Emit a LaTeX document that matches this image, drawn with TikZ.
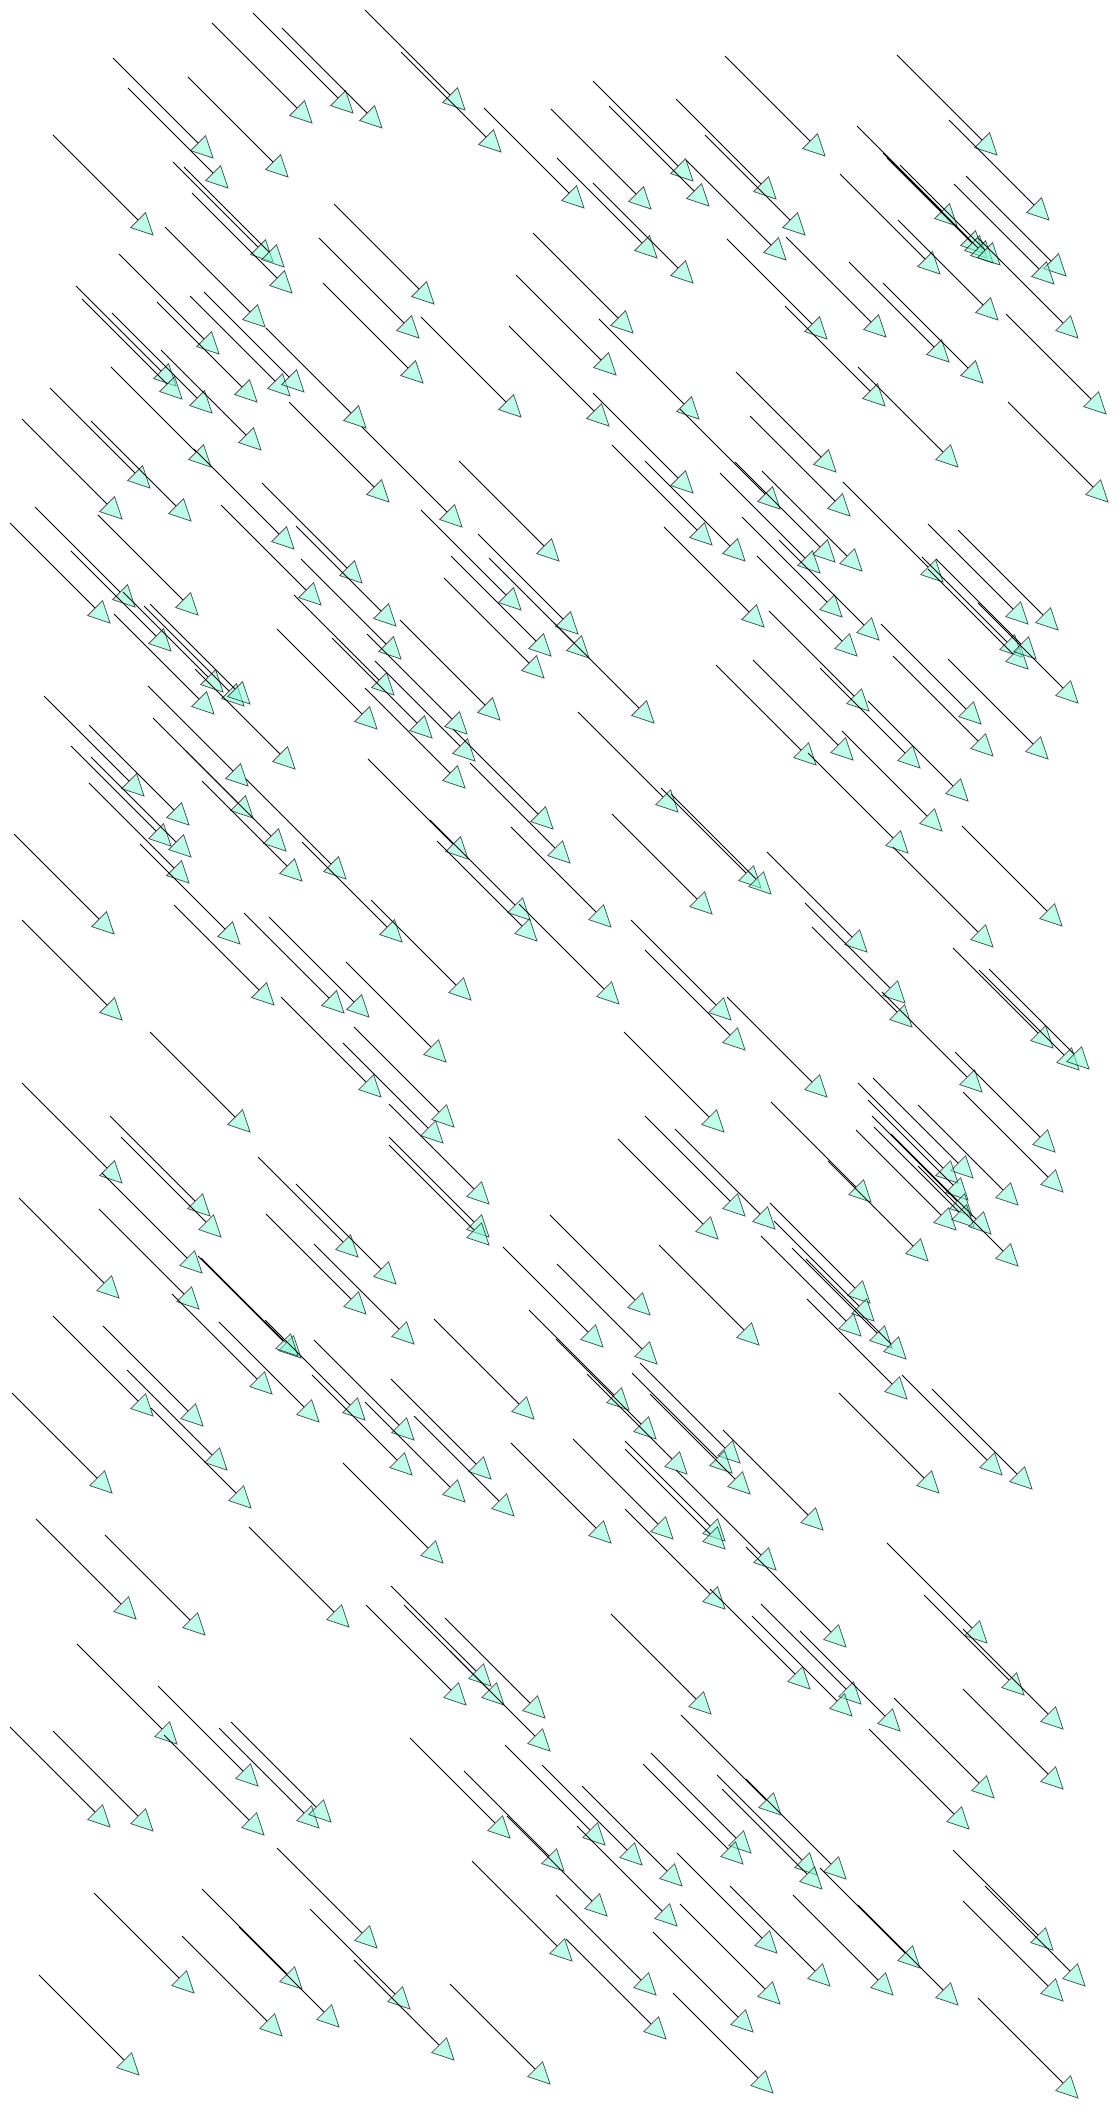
\documentclass[tikz,border=0pt]{standalone}
\usepackage{tikz}
\usetikzlibrary{calc}
\definecolor{aquamarine}{RGB}{127,255,212}

\begin{document}
\begin{tikzpicture}[x=1pt, y=-1pt, shaft/.style={black, line width=0.8pt}, head/.style={fill=aquamarine, fill opacity=0.5, draw=black, draw opacity=0.65, line width=0.8pt, line join=miter}]
			\useasboundingbox (0,0) rectangle (1118,2108);

			%every vector is (100,100), listed by its tip
			\foreach \x/\y in {
				312/123,353/113,382/128,465/110,501/152,213/158,228/188,288/177,153/235,273/262,284/267,292/293,434/304,265/327,419/338,219/354,
				423/383,176/386,182/399,212/413,257/402,290/396,304/392,366/428,521/417,261/450,211/467,150/488,122/519,191/521,389/502,462/527,
				584/208,651/209,693/181,709/206,776/199,825/156,805/235,997/155,1049/220,657/258,693/283,786/260,940/274,957/226,983/253,987/258,
				993/263,1000/265,1066/276,1054/284,633/333,827/339,886/337,998/320,1078/338,616/375,949/362,983/383,699/419,885/406,609/426,1106/414,
				836/472,958/467,693/493,780/509,850/516,1108/502,
				294/549,559/561,110/623,135/607,198/615,362/583,321/605,396/626,521/610,171/651,401/659,551/656,544/678,223/692,244/706,250/704,
				214/714,394/695,500/720,377/729,432/738,467/734,475/761,295/769,465/788,248/786,144/796,189/825,253/818,553/829,171/846,191/857,
				286/851,468/859,189/883,302/881,346/879,114/934,240/944,402/942,530/920,537/941,122/1020,274/1005,344/1013,369/1017,471/1000,
				712/545,745/561,835/562,820/573,862/571,943/582,764/627,842/617,879/640,857/656,1028/624,1058/630,578/634,589/658,1022/657,1028/669,
				1036/659,1078/703,654/723,869/711,981/724,993/756,1048/759,816/765,853/760,920/768,968/801,678/812,942/831,908/853,570/863,761/888,
				771/894,712/914,611/927,1062/926,993/947,867/952,619/1004,905/1003,731/1020,912/1027,745/1050,1053/1048,
				446/1062,381/1097,454/1127,443/1143,250/1132,122/1183,210/1216,221/1237,489/1204,489/1237,489/1245,358/1257,396/1284,202/1273,119/1298,199/1309,
				366/1314,301/1358,298/1356,414/1344,272/1394,153/1416,203/1426,319/1422,365/1420,414/1440,534/1419,227/1470,412/1475,491/1479,112/1493,251/1508,
				465/1502,514/1516,443/1563,
				1079/1070,1089/1069,827/1097,982/1092,724/1132,1055/1152,1063/1192,871/1202,973/1178,958/1183,968/1200,972/1216,956/1230,974/1227,991/1234,1018/1205,
				1018/1266,745/1216,775/1229,718/1239,928/1261,650/1315,759/1345,870/1303,874/1321,861/1336,892/1348,906/1359,603/1347,657/1364,907/1399,629/1410,
				656/1439,687/1474,740/1463,732/1473,750/1494,1002/1475,1032/1489,939/1493,823/1530,611/1543,673/1539,725/1541,725/1549,776/1570,
				136/1619,205/1635,349/1627,466/1705,491/1686,504/1705,545/1718,550/1751,177/1744,258/1786,110/1827,153/1831,264/1835,319/1828,331/1822,510/1838,
				564/1871,377/1948,194/1993,302/1989,339/2027,282/2036,410/2009,454/2060,139/2075,550/2084,
				725/1609,846/1647,987/1643,711/1714,810/1689,861/1704,852/1716,900/1731,1024/1695,1063/1729,994/1798,1063/1789,969/1829,781/1815,605/1845,642/1865,
				751/1853,743/1864,682/1886,846/1879,817/1875,822/1889,607/1916,677/1926,777/1953,920/1968,1053/1950,1085/1986,572/1961,656/1995,830/1986,893/1995,
				958/2005,780/2004,1063/2001,753/2032,666/2039,773/2093,1078/2098}{
				\coordinate (tip) at (\x,\y);
				\draw[shaft] ($(tip)+(-100,-100)$) -- ($(tip)+(-15,-15)$);
				\filldraw[head] (tip) -- ($(tip)+(-7.4,-22.3)$) -- ($(tip)+(-22.3,-7.4)$) -- cycle;
			}

		\end{tikzpicture}
\end{document}
